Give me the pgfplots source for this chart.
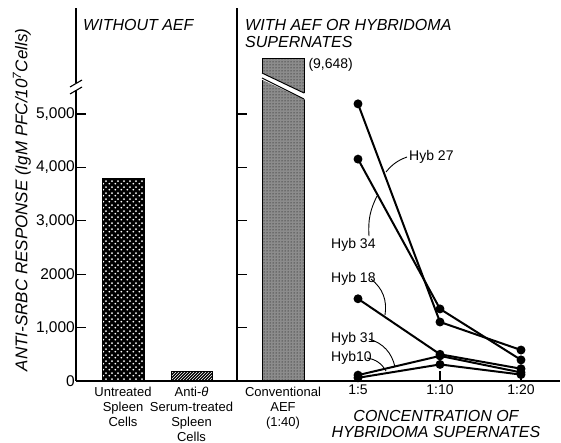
\documentclass[border=0pt]{standalone}
\usepackage{pgfplots}
\pgfplotsset{compat=1.18}
\usepackage{fontspec}
\setmainfont{Liberation Sans}
\usetikzlibrary{patterns}
\pgfdeclarepatternformonly{wdots}{\pgfqpoint{0pt}{0pt}}{\pgfqpoint{6pt}{6pt}}{\pgfqpoint{6pt}{6pt}}{%
 \pgfpathcircle{\pgfqpoint{1.5pt}{1.5pt}}{1.1pt}%
 \pgfpathcircle{\pgfqpoint{4.5pt}{4.5pt}}{1.1pt}%
 \pgfusepath{fill}}
\newcommand{\fs}[1]{\fontsize{#1}{#1}\selectfont}
\begin{document}
\begin{tikzpicture}
\path[use as bounding box] (-76pt,-62pt) rectangle (485pt,381pt);
\pgfplotsset{
 base/.style={scale only axis, height=373pt, ymin=0, ymax=6985,
  axis x line=bottom, axis y line=left, axis line style={-, line width=1.4pt},
  tick align=inside, major tick length=10pt, tick style={line width=1.1pt, black},
  clip=false, /pgf/number format/assume math mode=true,
  ticklabel style={font=\fs{15.5}}},
}
\begin{axis}[base, at={(0pt,0pt)}, anchor=south west, width=161pt, xmin=76, xmax=237,
  xtick=\empty, ytick={0,1000,2000,3000,4000,5000},
  yticklabels={0,{1,000},2000,{3,000},{4,000},{5,000}},
  yticklabel style={inner sep=1pt, anchor=east}]
\addplot[ybar, bar width=42pt, bar shift=0pt, fill=black, draw=black, line width=1pt,
  postaction={pattern=wdots, pattern color=white}] coordinates {(123,3790)};
\addplot[ybar, bar width=41pt, bar shift=0pt, fill=black, draw=black, line width=1pt,
  postaction={pattern=north east lines, pattern color=white}] coordinates {(191.5,170)};
\end{axis}
\begin{axis}[base, at={(161pt,0pt)}, anchor=south west, width=323pt, xmin=237, xmax=560,
  xtick={358,440,521}, xticklabels={1:5,1:10,1:20},
  ytick={1000,2000,3000,4000,5000}, yticklabels={},
  xticklabel style={font=\fs{14}}]
\addplot[ybar, bar width=42pt, bar shift=0pt, fill=black!45, draw=black, line width=1pt,
  postaction={pattern=dots}] coordinates {(283,6030)};
\fill[white] (axis cs:260,5790) -- (axis cs:306,5375) -- (axis cs:306,5262) -- (axis cs:260,5660) -- cycle;
\draw[line width=1pt] (axis cs:262,5768) -- (axis cs:304,5393);
\draw[line width=1pt] (axis cs:262,5674) -- (axis cs:304,5281);
\node[anchor=west, font=\fs{14}] at (axis cs:305,5918) {(9,648)};
% Hybridoma series
\addplot[line width=2pt, mark=*, mark size=3.4pt] coordinates {(358,5190) (440,1105) (521,580)};
\addplot[line width=2pt, mark=*, mark size=3.4pt] coordinates {(358,4155) (440,1350) (521,395)};
\addplot[line width=2pt, mark=*, mark size=3.4pt] coordinates {(358,1540) (440,500) (521,230)};
\addplot[line width=2pt, mark=*, mark size=3.4pt] coordinates {(358,110) (440,470) (521,160)};
\addplot[line width=2pt, mark=*, mark size=3.4pt] coordinates {(358,60) (440,310) (521,120)};
% labels and leaders
\node[anchor=west, font=\fs{14}, inner sep=1pt] at (axis cs:408,4195) {Hyb 27};
\draw[line width=0.9pt] (axis cs:407,4195) to[bend right=15] (axis cs:386,3914);
\node[anchor=west, font=\fs{14}, inner sep=1pt] at (axis cs:330,2547) {Hyb 34};
\draw[line width=0.9pt] (axis cs:369,2715) to[bend left=15] (axis cs:377,3464);
\node[anchor=west, font=\fs{14}, inner sep=1pt] at (axis cs:330,1910) {Hyb 18};
\draw[line width=0.9pt] (axis cs:371,1910) to[bend left=30] (axis cs:385,1236);
\node[anchor=west, font=\fs{14}, inner sep=1pt] at (axis cs:330,787) {Hyb 31};
\draw[line width=0.9pt] (axis cs:369,787) to[bend left=30] (axis cs:395,262);
\node[anchor=west, font=\fs{14}, inner sep=1pt] at (axis cs:330,431) {Hyb10};
\draw[line width=0.9pt] (axis cs:367,431) to[bend left=25] (axis cs:386,187);
\end{axis}
% break marks on left axis
\fill[white] (-3pt,291pt) rectangle (3pt,298pt);
\draw[line width=1.1pt] (-6pt,294pt) -- (6pt,301pt);
\draw[line width=1.1pt] (-6pt,287pt) -- (6pt,294pt);
% texts
\node[rotate=90, font=\fs{17}\itshape] at (-54pt,181pt) {ANTI-SRBC RESPONSE (IgM PFC/10\textsuperscript{7}Cells)};
\node[anchor=west, inner sep=0pt, font=\fs{16}\itshape] at (7pt,356pt) {WITHOUT AEF};
\node[anchor=north west, align=left, inner sep=0pt, font=\fontsize{16}{17}\selectfont\itshape] at (169pt,362pt) {WITH AEF OR HYBRIDOMA\\SUPERNATES};
\node[anchor=north, align=center, inner sep=0pt, font=\fontsize{13}{15}\selectfont] at (47pt,-6pt) {Untreated\\Spleen\\Cells};
\node[anchor=north, align=center, inner sep=0pt, font=\fontsize{13}{15}\selectfont] at (115.5pt,-6pt) {Anti-\textit{θ}\\Serum-treated\\Spleen\\Cells};
\node[anchor=north, align=center, inner sep=0pt, font=\fontsize{13}{15}\selectfont] at (207pt,-6pt) {Conventional\\AEF\\(1:40)};
\node[anchor=north, align=center, inner sep=0pt, font=\fontsize{16}{16}\selectfont\itshape] at (360pt,-29pt) {CONCENTRATION OF\\HYBRIDOMA SUPERNATES};
\end{tikzpicture}
\end{document}
